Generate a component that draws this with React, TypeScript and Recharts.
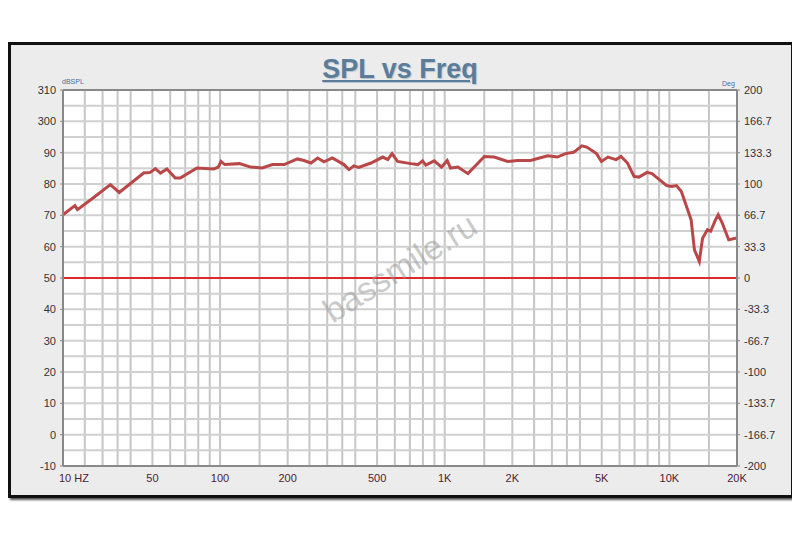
import { LineChart, Line, XAxis, YAxis, CartesianGrid, ReferenceLine } from "recharts"

const FREQ = [
  20, 22.6, 23.2, 27.3, 32.5, 35.6, 45.7, 48.9, 51.5, 54.3, 58, 63.2, 66.5, 78.9, 93.8, 98.2, 101, 105,
  122, 137, 154, 171, 193, 221, 236, 254, 272, 290, 316, 356, 375, 394, 414, 470, 530, 558, 583, 617,
  707, 760, 797, 824, 898, 968, 1026, 1061, 1145, 1269, 1502, 1662, 1905, 2108, 2411, 2871, 3173, 3449,
  3750, 4078, 4287, 4739, 4983, 5326, 5792, 6090, 6510, 6962, 7318, 7958, 8368, 9732, 10230, 10756,
  11308, 12498, 12930, 13590, 14050, 14770, 15270, 16050, 16500, 17180, 18370, 20000,
]
const SPL = [
  70.2, 73.1, 71.8, 75.6, 79.8, 77.3, 83.5, 83.7, 84.9, 83.5, 84.8, 81.9, 81.9, 85.1, 84.8, 85.4, 87.2, 86.2,
  86.5, 85.4, 85.1, 86.2, 86.2, 88.0, 87.5, 86.7, 88.3, 87.1, 88.3, 86.2, 84.6, 85.8, 85.3, 86.7, 88.6, 87.8,
  89.7, 87.2, 86.5, 86.2, 87.4, 86.0, 87.4, 85.4, 87.5, 85.1, 85.4, 83.3, 88.8, 88.6, 87.2, 87.5, 87.5, 89.0,
  88.6, 89.7, 90.1, 92.2, 91.8, 89.7, 87.2, 88.6, 87.8, 88.8, 86.7, 82.4, 82.2, 83.7, 83.3, 79.5, 79.2, 79.5,
  77.6, 68.6, 59.0, 55.3, 62.7, 65.4, 64.9, 68.6, 70.2, 67.6, 62.2, 62.8,
]
// phase trace (flat at 0 deg)
const PHASE_FREQ = [20, 20000]
const PHASE = [0, 0]

const X_TICKS = [20, 50, 100, 200, 500, 1000, 2000, 5000, 10000, 20000]
const X_LABELS = ["10 HZ", "50", "100", "200", "500", "1K", "2K", "5K", "10K", "20K"]
const LEFT_TICKS = [-10, 0, 10, 20, 30, 40, 50, 60, 70, 80, 90, 100, 110]
const LEFT_LABELS = ["-10", "0", "10", "20", "30", "40", "50", "60", "70", "80", "90", "300", "310"]
const RIGHT_TICKS = [-200, -166.7, -133.3, -100, -66.7, -33.3, 0, 33.3, 66.7, 100, 133.3, 166.7, 200]
const RIGHT_LABELS = ["-200", "-166.7", "-133.7", "-100", "-66.7", "-33.3", "0", "33.3", "66.7", "100", "133.3", "166.7", "200"]

const GRID_MULT = [1, 1.5, 2, 2.5, 3, 3.5, 4, 5, 6, 7, 8, 9]
const GRID_X: number[] = []
for (const d of [10, 100, 1000, 10000]) {
  for (const m of GRID_MULT) {
    const f = d * m
    if (f > 20 && f < 20000) GRID_X.push(f)
  }
}
const GRID_Y: number[] = []
for (let v = -5; v < 110; v += 5) GRID_Y.push(v)

const data = FREQ.map((f, i) => ({ f, spl: SPL[i] }))
const phaseData = PHASE_FREQ.map((f, i) => ({ f, phase: PHASE[i] }))

const FONT = "'Liberation Sans', Arial, sans-serif"

const XTick = (props: any) => {
  const { x, y, payload } = props
  const i = X_TICKS.indexOf(payload.value)
  return (
    <text x={i === 0 ? x - 4 : x} y={y + 8} textAnchor={i === 0 ? "start" : "middle"} fill="#4d2233"
      fontSize={11} fontFamily={FONT}>
      {X_LABELS[i]}
    </text>
  )
}

const LeftTick = (props: any) => {
  const { x, y, payload } = props
  const i = LEFT_TICKS.indexOf(payload.value)
  return (
    <text x={x - 2} y={y + 4} textAnchor="end" fill="#333" fontSize={11} fontFamily={FONT}>
      {LEFT_LABELS[i]}
    </text>
  )
}

const RightTick = (props: any) => {
  const { x, y, payload } = props
  const i = RIGHT_TICKS.indexOf(payload.value)
  return (
    <text x={x + 2} y={y + 4} textAnchor="start" fill="#333" fontSize={11} fontFamily={FONT}>
      {RIGHT_LABELS[i]}
    </text>
  )
}

export default function App() {
  return (
    <div style={{ position: "relative", width: 800, height: 533, margin: -8, background: "#fff", overflow: "hidden" }}>
      <div style={{
        position: "absolute", left: 8, top: 42, width: 786, height: 456, boxSizing: "border-box",
        border: "3px solid #111", background: "#ececec", boxShadow: "2px 2px 2px #555",
      }} />
      <div style={{
        position: "absolute", left: 0, width: 800, top: 54, textAlign: "center", fontFamily: FONT,
        fontWeight: "bold", fontSize: 27, color: "#5b7d99", textDecoration: "underline",
        textShadow: "1px 1px 1px #b8c4cf",
      }}>
        SPL vs Freq
      </div>
      <div style={{ position: "absolute", left: 62, top: 78, fontSize: 7, color: "#4a6f99", fontFamily: FONT }}>dBSPL</div>
      <div style={{ position: "absolute", left: 722, top: 80, fontSize: 7, color: "#4a6f99", fontFamily: FONT }}>Deg</div>
      <div style={{ position: "absolute", left: 0, top: 0 }}>
        <LineChart width={800} height={533} data={data} margin={{ top: 90, right: 13, bottom: 47, left: 23 }}>
          <CartesianGrid horizontal={false} vertical={false} fill="#fff" />
          <XAxis dataKey="f" type="number" scale="log" domain={[20, 20000]} ticks={X_TICKS} allowDataOverflow
            tick={<XTick />} tickLine={false} axisLine={{ stroke: "#888", strokeWidth: 2 }} height={20} interval={0} />
          <YAxis yAxisId="left" type="number" domain={[-10, 110]} ticks={LEFT_TICKS} tick={<LeftTick />} interval={0}
            width={40} tickSize={3} tickLine={{ stroke: "#888" }} axisLine={{ stroke: "#888", strokeWidth: 2 }} />
          <YAxis yAxisId="right" orientation="right" type="number" domain={[-200, 200]} ticks={RIGHT_TICKS} interval={0}
            allowDataOverflow tick={<RightTick />} width={50} tickSize={3} tickLine={{ stroke: "#888" }}
            axisLine={{ stroke: "#888", strokeWidth: 2 }} />
          {GRID_X.map((f) => (
            <ReferenceLine key={`gx-${f}`} yAxisId="left" x={f} stroke="#c6c6c6" strokeWidth={2} />
          ))}
          {GRID_Y.map((v) => (
            <ReferenceLine key={`gy-${v}`} yAxisId="left" y={v} stroke="#d0d0d0" strokeWidth={2} />
          ))}
          <ReferenceLine yAxisId="left" y={110} stroke="#888" strokeWidth={2} />
          <Line yAxisId="right" data={phaseData} type="linear" dataKey="phase" stroke="#e0282a" strokeWidth={2}
            dot={false} isAnimationActive={false} />
          <Line yAxisId="left" type="linear" dataKey="spl" stroke="#b94747" strokeWidth={3} dot={false}
            isAnimationActive={false} />
        </LineChart>
      </div>
      <div style={{
        position: "absolute", left: 400, top: 268, transform: "translate(-50%, -50%) rotate(-32deg)",
        fontSize: 34, color: "rgba(150,150,150,0.5)", fontFamily: FONT, whiteSpace: "nowrap",
      }}>
        bassmile.ru
      </div>
    </div>
  )
}
